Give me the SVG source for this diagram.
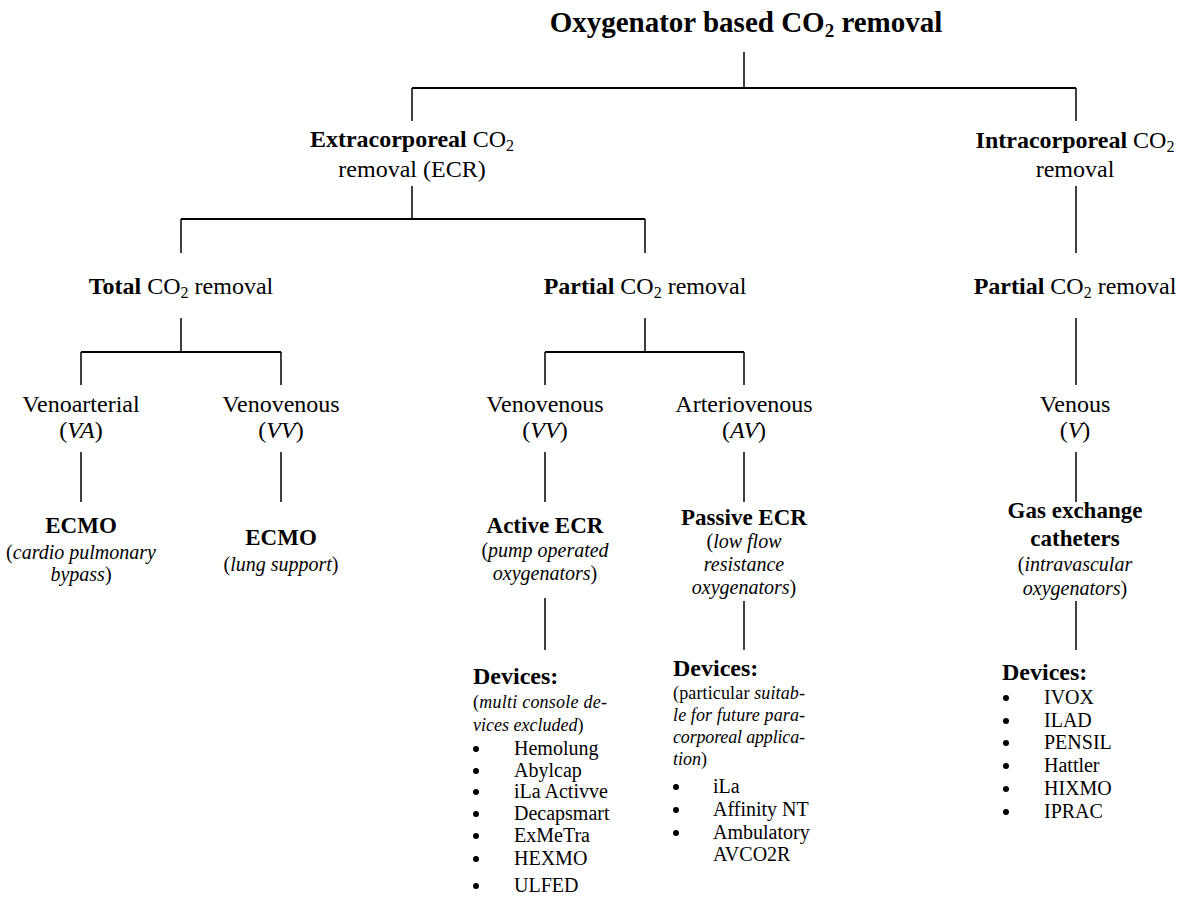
<svg xmlns="http://www.w3.org/2000/svg" width="1180" height="897" viewBox="0 0 1180 897">
<style>
text { font-family: "Liberation Serif", "Times New Roman", serif; fill: #000; }
.t { font-size: 29px; font-weight: bold; }
.l { font-size: 24px; }
.h { font-size: 23px; font-weight: bold; }
.s { font-size: 20px; }
.d { font-size: 24px; font-weight: bold; }
.p { font-size: 18px; }
.li { font-size: 20px; }
.i { font-style: italic; }
.b { font-weight: bold; }
.c { text-anchor: middle; }
.sb { font-size: 16px; }
.conn line { stroke: #000; stroke-width: 1.5; }
.conn line.hz { stroke-width: 2; }
circle.bul { fill: #000; }
</style>
<defs>
<circle id="bullet" r="3" class="bul"/>
</defs>
<rect width="1180" height="897" fill="#fff"/>

<g id="connectors" class="conn">
  <line x1="744" y1="52" x2="744" y2="88"/>
  <line class="hz" x1="412" y1="88" x2="1076" y2="88"/>
  <line x1="412" y1="88" x2="412" y2="121"/>
  <line x1="1076" y1="88" x2="1076" y2="121"/>
  <line x1="412" y1="186" x2="412" y2="219"/>
  <line class="hz" x1="181" y1="219" x2="645" y2="219"/>
  <line x1="181" y1="219" x2="181" y2="253"/>
  <line x1="645" y1="219" x2="645" y2="253"/>
  <line x1="1076" y1="186" x2="1076" y2="253"/>
  <line x1="181" y1="318" x2="181" y2="352"/>
  <line class="hz" x1="81" y1="352" x2="281" y2="352"/>
  <line x1="81" y1="352" x2="81" y2="385"/>
  <line x1="281" y1="352" x2="281" y2="385"/>
  <line x1="645" y1="318" x2="645" y2="352"/>
  <line class="hz" x1="545" y1="352" x2="744" y2="352"/>
  <line x1="545" y1="352" x2="545" y2="385"/>
  <line x1="744" y1="352" x2="744" y2="385"/>
  <line x1="1076" y1="318" x2="1076" y2="385"/>
  <line x1="81" y1="452" x2="81" y2="502"/>
  <line x1="281" y1="452" x2="281" y2="502"/>
  <line x1="545" y1="452" x2="545" y2="502"/>
  <line x1="744" y1="452" x2="744" y2="502"/>
  <line x1="1076" y1="452" x2="1076" y2="502"/>
  <line x1="545" y1="598" x2="545" y2="650"/>
  <line x1="744" y1="601" x2="744" y2="650"/>
  <line x1="1076" y1="601" x2="1076" y2="650"/>
</g>

<g id="root">
  <text class="t c" x="746" y="32">Oxygenator based CO<tspan font-size="19px" dy="5">2</tspan><tspan dy="-5"> removal</tspan></text>
</g>

<g id="extracorporeal">
  <text class="l c" x="412" y="147"><tspan class="b">Extracorporeal</tspan> CO<tspan class="sb" dy="4">2</tspan></text>
  <text class="l c" x="412" y="177">removal (ECR)</text>
</g>

<g id="intracorporeal">
  <text class="l c" x="1075" y="148"><tspan class="b">Intracorporeal</tspan> CO<tspan class="sb" dy="4">2</tspan></text>
  <text class="l c" x="1075" y="177">removal</text>
</g>

<g id="total">
  <text class="l c" x="181" y="294"><tspan class="b">Total</tspan> CO<tspan class="sb" dy="4">2</tspan><tspan dy="-4"> removal</tspan></text>
</g>

<g id="partial-ecr">
  <text class="l c" x="645" y="294"><tspan class="b">Partial</tspan> CO<tspan class="sb" dy="4">2</tspan><tspan dy="-4"> removal</tspan></text>
</g>

<g id="partial-icr">
  <text class="l c" x="1075" y="294"><tspan class="b">Partial</tspan> CO<tspan class="sb" dy="4">2</tspan><tspan dy="-4"> removal</tspan></text>
</g>

<g id="venoarterial">
  <text class="l c" x="81" y="412">Venoarterial</text>
  <text class="l c" x="81" y="438">(<tspan class="i">VA</tspan>)</text>
</g>

<g id="venovenous-total">
  <text class="l c" x="281" y="412">Venovenous</text>
  <text class="l c" x="281" y="438">(<tspan class="i">VV</tspan>)</text>
</g>

<g id="venovenous-partial">
  <text class="l c" x="545" y="412">Venovenous</text>
  <text class="l c" x="545" y="438">(<tspan class="i">VV</tspan>)</text>
</g>

<g id="arteriovenous">
  <text class="l c" x="744" y="412">Arteriovenous</text>
  <text class="l c" x="744" y="438">(<tspan class="i">AV</tspan>)</text>
</g>

<g id="venous">
  <text class="l c" x="1075" y="412">Venous</text>
  <text class="l c" x="1075" y="438">(<tspan class="i">V</tspan>)</text>
</g>

<g id="ecmo-va">
  <text class="h c" x="81" y="533">ECMO</text>
  <text class="s c" x="81" y="559">(<tspan class="i">cardio pulmonary</tspan></text>
  <text class="s c" x="81" y="581"><tspan class="i">bypass</tspan>)</text>
</g>

<g id="ecmo-vv">
  <text class="h c" x="281" y="545">ECMO</text>
  <text class="s c" x="281" y="571">(<tspan class="i">lung support</tspan>)</text>
</g>

<g id="active-ecr">
  <text class="h c" x="545" y="533">Active ECR</text>
  <text class="s c" x="545" y="557">(<tspan class="i">pump operated</tspan></text>
  <text class="s c" x="545" y="580"><tspan class="i">oxygenators</tspan>)</text>
</g>

<g id="passive-ecr">
  <text class="h c" x="744" y="525">Passive ECR</text>
  <text class="s c" x="744" y="548">(<tspan class="i">low flow</tspan></text>
  <text class="s c i" x="744" y="571">resistance</text>
  <text class="s c" x="744" y="594"><tspan class="i">oxygenators</tspan>)</text>
</g>

<g id="gas-exchange">
  <text class="h c" x="1075" y="518">Gas exchange</text>
  <text class="h c" x="1075" y="546">catheters</text>
  <text class="s c" x="1075" y="571">(<tspan class="i">intravascular</tspan></text>
  <text class="s c" x="1075" y="595"><tspan class="i">oxygenators</tspan>)</text>
</g>

<g id="devices-active">
  <text class="d" x="473" y="684">Devices:</text>
  <text class="p" x="473" y="708" textLength="134" lengthAdjust="spacing">(<tspan class="i">multi console de-</tspan></text>
  <text class="p" x="473" y="731"><tspan class="i">vices excluded</tspan>)</text>
  <use href="#bullet" x="476" y="749"/>
  <text class="li" x="514" y="755">Hemolung</text>
  <use href="#bullet" x="476" y="771"/>
  <text class="li" x="514" y="777">Abylcap</text>
  <use href="#bullet" x="476" y="792"/>
  <text class="li" x="514" y="798">iLa Activve</text>
  <use href="#bullet" x="476" y="814"/>
  <text class="li" x="514" y="820">Decapsmart</text>
  <use href="#bullet" x="476" y="836"/>
  <text class="li" x="514" y="842">ExMeTra</text>
  <use href="#bullet" x="476" y="859"/>
  <text class="li" x="514" y="865">HEXMO</text>
  <use href="#bullet" x="476" y="886"/>
  <text class="li" x="514" y="892">ULFED</text>
</g>

<g id="devices-passive">
  <text class="d" x="673" y="676">Devices:</text>
  <text class="p" x="673" y="699" textLength="132" lengthAdjust="spacing">(particular <tspan class="i">suitab-</tspan></text>
  <text class="p i" x="673" y="721" textLength="132" lengthAdjust="spacing">le for future para-</text>
  <text class="p i" x="673" y="743" textLength="132" lengthAdjust="spacing">corporeal applica-</text>
  <text class="p" x="673" y="765"><tspan class="i">tion</tspan>)</text>
  <use href="#bullet" x="676" y="787"/>
  <text class="li" x="713" y="793">iLa</text>
  <use href="#bullet" x="676" y="810"/>
  <text class="li" x="713" y="816">Affinity NT</text>
  <use href="#bullet" x="676" y="833"/>
  <text class="li" x="713" y="839">Ambulatory</text>
  <text class="li" x="713" y="861">AVCO2R</text>
</g>

<g id="devices-intra">
  <text class="d" x="1002" y="680">Devices:</text>
  <use href="#bullet" x="1006" y="698"/>
  <text class="li" x="1044" y="704">IVOX</text>
  <use href="#bullet" x="1006" y="721"/>
  <text class="li" x="1044" y="727">ILAD</text>
  <use href="#bullet" x="1006" y="743"/>
  <text class="li" x="1044" y="749">PENSIL</text>
  <use href="#bullet" x="1006" y="766"/>
  <text class="li" x="1044" y="772">Hattler</text>
  <use href="#bullet" x="1006" y="789"/>
  <text class="li" x="1044" y="795">HIXMO</text>
  <use href="#bullet" x="1006" y="812"/>
  <text class="li" x="1044" y="818">IPRAC</text>
</g>
</svg>
